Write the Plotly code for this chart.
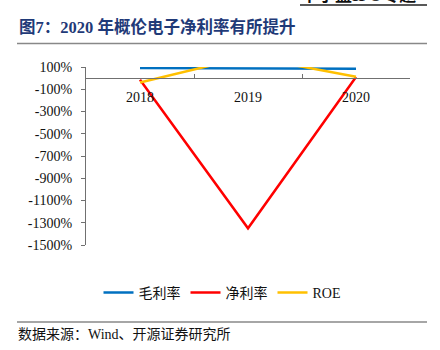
import plotly.graph_objects as go

years = ["2018", "2019", "2020"]
gross_margin = [90, 88, 84]
net_margin = [-15, -1350, 10]
roe = [-40, 195, 12]
y_ticks = [100, -100, -300, -500, -700, -900, -1100, -1300, -1500]
y_tick_text = [f"{v}%" for v in y_ticks]

W, H = 440, 350
L, R, T, B = 86, 30, 67, 105
PW, PH = W - L - R, H - T - B
ymin, ymax = -1500, 100


def px(xp):
    return (xp - L) / PW


def py(yp):
    return (H - B - yp) / PH


fig = go.Figure()
fig.add_trace(go.Scatter(x=years, y=gross_margin, name="毛利率", mode="lines",
                         line=dict(color="#0070C0", width=2.5)))
fig.add_trace(go.Scatter(x=years, y=net_margin, name="净利率", mode="lines",
                         line=dict(color="#FF0000", width=2.5)))
fig.add_trace(go.Scatter(x=years, y=roe, name="ROE", mode="lines",
                         line=dict(color="#FFC000", width=2.5)))

serif = "Liberation Serif, Times New Roman, Noto Sans CJK SC"
cjk = "Liberation Serif, Noto Sans CJK SC"

fig.update_layout(
    width=W, height=H,
    margin=dict(l=L, r=R, t=T, b=B),
    paper_bgcolor="white", plot_bgcolor="white",
    showlegend=True,
    legend=dict(orientation="h", x=px(222), y=py(293), xanchor="center", yanchor="middle",
                font=dict(family=cjk, size=14, color="#111"),
                itemwidth=30, tracegroupgap=0),
    xaxis=dict(type="category", range=[-0.5, 2.5], anchor="free",
               position=(0 - ymin) / (ymax - ymin),
               showline=True, linecolor="#707070", linewidth=1.2,
               ticks="inside", ticklen=4, tickcolor="#707070", tickson="boundaries",
               showgrid=False, zeroline=False,
               tickfont=dict(family=serif, size=14, color="#111"),
               ticklabelstandoff=6),
    yaxis=dict(range=[ymin, ymax], tickvals=y_ticks, ticktext=y_tick_text,
               showline=True, linecolor="#707070", linewidth=1.2,
               ticks="outside", ticklen=4, tickcolor="#707070",
               showgrid=False, zeroline=False, ticklabelstandoff=6,
               tickfont=dict(family=serif, size=14, color="#111")),
)

# rules
fig.add_shape(type="line", xref="paper", yref="paper", x0=px(300), x1=px(427),
              y0=py(5), y1=py(5), line=dict(color="#222", width=1.5))
fig.add_shape(type="line", xref="paper", yref="paper", x0=px(17), x1=px(427),
              y0=py(43.5), y1=py(43.5), line=dict(color="#888", width=1.5))
fig.add_shape(type="line", xref="paper", yref="paper", x0=px(17), x1=px(427),
              y0=py(322), y1=py(322), line=dict(color="#888", width=1.5))

fig.add_annotation(text="<b>图7：2020 年概伦电子净利率有所提升</b>", xref="paper", yref="paper",
                   x=px(17), y=py(27), xanchor="left", yanchor="middle", showarrow=False,
                   font=dict(family=cjk, size=16.5, color="#1F3A78"))
fig.add_annotation(text="<b>中小盘IPO专题</b>", xref="paper", yref="paper",
                   x=px(418), y=py(7), xanchor="right", yanchor="bottom", showarrow=False,
                   font=dict(family=cjk, size=17, color="#111"))
fig.add_annotation(text="数据来源：Wind、开源证券研究所", xref="paper", yref="paper",
                   x=px(16), y=py(334), xanchor="left", yanchor="middle", showarrow=False,
                   font=dict(family=cjk, size=14, color="#111"))

fig.write_html("out.html")
